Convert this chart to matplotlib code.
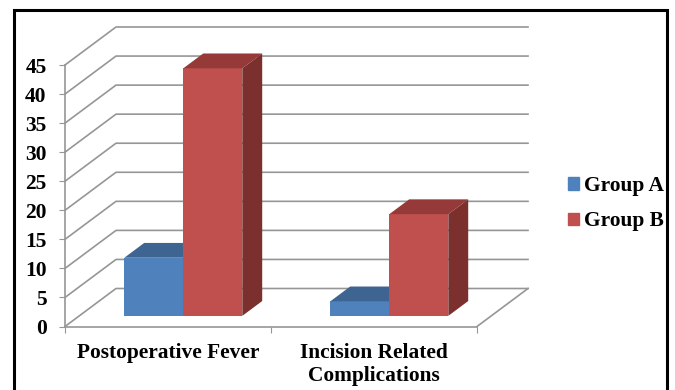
#!/usr/bin/env python3

import matplotlib
matplotlib.use("Agg")
import matplotlib.pyplot as plt
from matplotlib.patches import Patch, Rectangle

categories = ["Postoperative Fever", "Incision Related\nComplications"]
series_names = ["Group A", "Group B"]
group_a = [10, 2.5]
group_b = [42.6, 17.5]
y_ticks = [0, 5, 10, 15, 20, 25, 30, 35, 40, 45]

FACE = ["#4F81BD", "#C0504D"]
TOP = ["#3E6491", "#953A38"]
SIDE = ["#35557B", "#7B302E"]
GRID = "#969696"

# how far the back wall sits from the front, in data units
SHIFT_X = 51 / 206
SHIFT_Y = 38 / (261.5 / 45)

plt.rcParams["font.family"] = ["Liberation Serif", "DejaVu Serif"]
plt.rcParams["font.weight"] = "bold"

fig = plt.figure(figsize=(6.75, 3.9), dpi=100)
ax = fig.add_axes([65 / 675, (390 - 326.5) / 390, 412 / 675, 261.5 / 390])
ax.set_xlim(0, 2)
ax.set_ylim(0, 45)


def at_depth(x, y, d):
    return x + SHIFT_X * d, y + SHIFT_Y * d


def box(x0, x1, h, color_i):
    d0, d1 = 0.28, 0.67
    corners = lambda pts: zip(*[at_depth(*p) for p in pts])
    ax.fill(*corners([(x0, 0, d0), (x1, 0, d0), (x1, h, d0), (x0, h, d0)]),
            color=FACE[color_i], lw=0, clip_on=False, zorder=3)
    ax.fill(*corners([(x0, h, d0), (x1, h, d0), (x1, h, d1), (x0, h, d1)]),
            color=TOP[color_i], lw=0, clip_on=False, zorder=3)
    ax.fill(*corners([(x1, 0, d0), (x1, 0, d1), (x1, h, d1), (x1, h, d0)]),
            color=SIDE[color_i], lw=0, clip_on=False, zorder=3)


# walls and floor
for t in y_ticks:
    xs, ys = zip(at_depth(0, t, 0), at_depth(0, t, 1), at_depth(2, t, 1))
    ax.plot(xs, ys, color=GRID, lw=1.2, clip_on=False, zorder=1)
xs, ys = zip(at_depth(2, 0, 0), at_depth(2, 0, 1))
ax.plot(xs, ys, color=GRID, lw=1.2, clip_on=False, zorder=1)

bar_w = 59 / 206
for i in range(len(categories)):
    mid = i + 0.505
    box(mid - bar_w, mid, group_a[i], 0)
    box(mid, mid + bar_w, group_b[i], 1)

for s in ["top", "right"]:
    ax.spines[s].set_visible(False)
for s in ["left", "bottom"]:
    ax.spines[s].set_color(GRID)
    ax.spines[s].set_linewidth(1.2)

ax.set_yticks(y_ticks)
ax.set_xticks([0, 1, 2])
ax.set_xticklabels([])
ax.set_xticks([0.5, 1.5], minor=True)
ax.set_xticklabels(categories, minor=True, fontsize=15.4, fontweight="bold", linespacing=1.25)
ax.tick_params(axis="y", length=4.2, color=GRID, labelsize=15.5, pad=9)
ax.tick_params(axis="x", which="major", length=4.2, color=GRID)
ax.tick_params(axis="x", which="minor", length=0, pad=11.7)

handles = [Patch(color=FACE[0]), Patch(color=FACE[1])]
fig.legend(handles, series_names, loc="upper left", bbox_to_anchor=(568 / 675, 1 - 176 / 390),
           frameon=False, handlelength=0.52, handleheight=0.5,
           handletextpad=0.25, labelspacing=0.72, borderpad=0, borderaxespad=0,
           prop={"family": "Liberation Serif", "weight": "bold", "size": 15.4})

# black frame round the whole picture, runs off the bottom
fig.add_artist(Rectangle((14 / 675, -0.05), 653 / 675, 1.05 - 10.5 / 390, transform=fig.transFigure,
                         fill=False, edgecolor="black", lw=2.2))

fig.savefig("out.png", dpi=100)
